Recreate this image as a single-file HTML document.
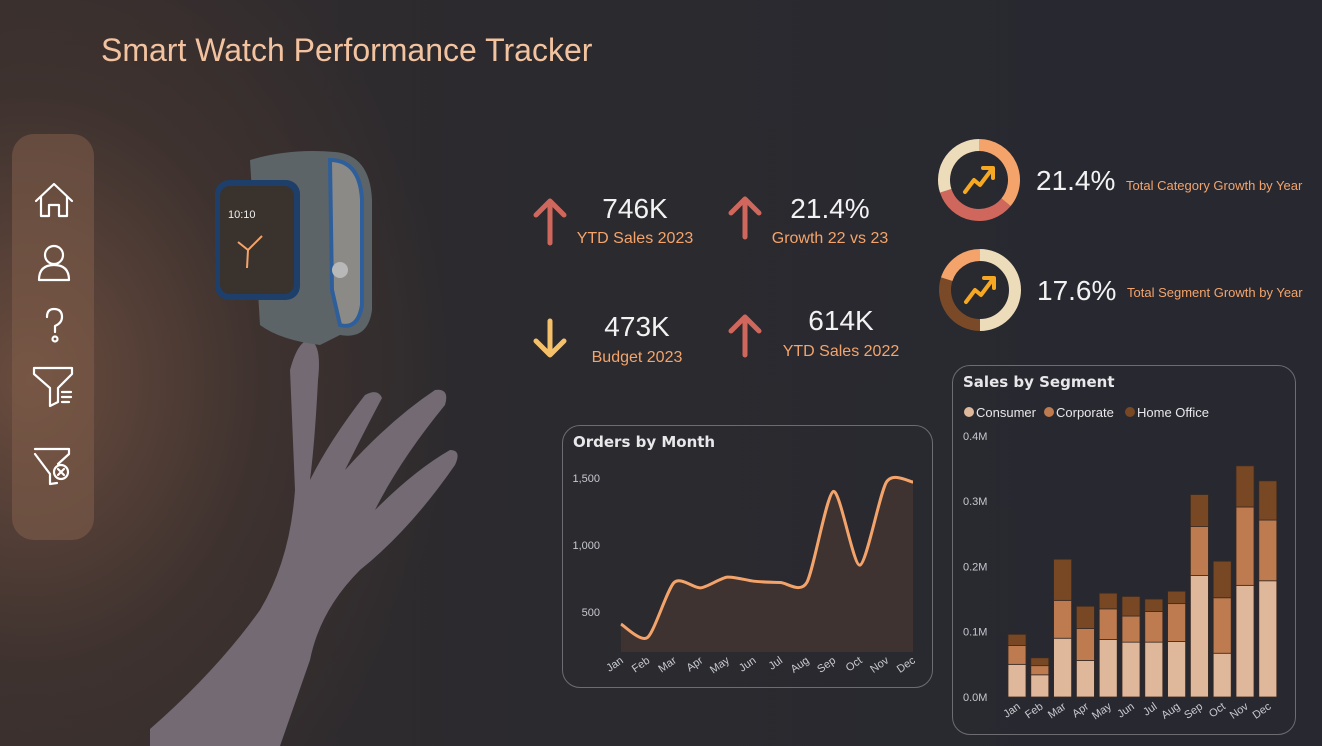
<!DOCTYPE html>
<html><head><meta charset="utf-8">
<style>
body{margin:0;width:1322px;height:746px;overflow:hidden;font-family:"Liberation Sans",sans-serif;}
#root{position:relative;width:1322px;height:746px;background:radial-gradient(ellipse 420px 520px at 30px 380px,#6a4c3e 0%,#3e322f 55%,rgba(40,40,46,0) 100%),linear-gradient(90deg,#352d2c 0%,#2b2a2f 40%,#272830 100%);}
.abs{position:absolute;}
.kv{position:absolute;color:#f2f2f2;font-size:28px;text-align:center;}
.kl{position:absolute;color:#f4a46a;font-size:16px;text-align:center;}
.card{position:absolute;border:1.5px solid #6c6c72;border-radius:18px;}
.ct{position:absolute;color:#e8e8ea;font-weight:bold;font-size:15px;font-family:"DejaVu Sans",sans-serif;}
</style></head><body>
<div id="root">
<div class="abs" style="left:101px;top:32px;font-size:32px;color:#f3c3a0;">Smart Watch Performance Tracker</div>

<div class="abs" style="left:12px;top:134px;width:82px;height:406px;border-radius:22px;background:rgba(130,95,75,0.55);"></div>
<svg class="abs" style="left:12px;top:134px" width="82" height="406" fill="none" stroke="#fff" stroke-width="2.2" stroke-linejoin="round" stroke-linecap="round">
<g><path d="M24 67 L42 50 L60 67 M29 63 V82 H37 V71 H47 V82 H55 V63"/></g>
<g><circle cx="42" cy="121" r="9"/><path d="M27 146 Q27 131 42 131 Q57 131 57 146 Z"/></g>
<g><path d="M35 183 Q35 175 42 175 Q50 175 50 183 Q50 189 43 192 V198"/><circle cx="43" cy="205" r="2.5"/></g>
<g><path d="M22 234 H60 V240 L46 254 V268 L38 272 V254 L22 240 Z"/><path d="M50 258 H59 M50 263 H59 M50 268 H57"/></g>
<g><path d="M23 315 H57 V320 L46 330 M38 340 V350 L45 349 M38 340 L23 320 Z"/><circle cx="49" cy="338" r="7"/><path d="M46 335 L52 341 M52 335 L46 341"/></g>
</svg>

<svg class="abs" style="left:150px;top:140px" width="330" height="606">
<path d="M140 230 Q148 200 160 200 Q172 205 168 240 Q165 300 160 340 Q180 300 215 255 Q228 248 232 258 Q215 290 195 330 Q240 280 285 250 Q300 248 295 265 Q250 320 225 370 Q265 330 300 310 Q312 310 305 325 Q260 390 210 430 Q170 470 160 520 L130 606 H-80 L-20 606 Q60 540 110 470 Q140 420 145 350 Z" fill="#736a74"/>
<path d="M100 20 Q140 8 185 12 Q220 15 222 60 L222 170 Q218 200 190 195 L170 205 Q130 200 110 185 Z" fill="#5c6468"/>
<path d="M180 20 Q210 20 212 60 L212 165 Q208 190 190 185 L182 150 Z" fill="#8c8a86" stroke="#2f5f9a" stroke-width="4"/>
<rect x="65" y="40" width="85" height="120" rx="14" fill="#1d3f6a"/>
<rect x="70" y="46" width="74" height="108" rx="10" fill="#3a322d"/>
<circle cx="190" cy="130" r="8" fill="#b8b8b8"/>
<text x="78" y="78" font-size="11" fill="#eee">10:10</text>
<path d="M98 110 L88 102 M98 110 L112 96 M98 110 L97 128" stroke="#f4a46a" stroke-width="2"/>
</svg>

<svg class="abs" style="left:530px;top:195px" width="40" height="180" stroke-linecap="round" stroke-linejoin="round" fill="none" stroke-width="5">
<path d="M20 48 V6 M6 20 L20 6 L34 20" stroke="#d0675c"/>
<path d="M20 126 V160 M6 146 L20 160 L34 146" stroke="#f5c06a"/>
</svg>
<svg class="abs" style="left:725px;top:195px" width="40" height="180" stroke-linecap="round" stroke-linejoin="round" fill="none" stroke-width="5">
<path d="M20 42 V4 M6 18 L20 4 L34 18" stroke="#d0675c"/>
<path d="M20 160 V122 M6 136 L20 122 L34 136" stroke="#d0675c"/>
</svg>
<div class="kv" style="left:575px;top:193px;width:120px;">746K</div>
<div class="kl" style="left:565px;top:230px;width:140px;">YTD Sales 2023</div>
<div class="kv" style="left:770px;top:193px;width:120px;">21.4%</div>
<div class="kl" style="left:760px;top:230px;width:140px;">Growth 22 vs 23</div>
<div class="kv" style="left:577px;top:311px;width:120px;">473K</div>
<div class="kl" style="left:567px;top:349px;width:140px;">Budget 2023</div>
<div class="kv" style="left:781px;top:305px;width:120px;">614K</div>
<div class="kl" style="left:771px;top:343px;width:140px;">YTD Sales 2022</div>

<svg class="abs" id="donuts" style="left:930px;top:130px" width="100" height="210"></svg>
<div class="kv" style="left:1036px;top:165px;">21.4%</div>
<div class="abs" style="left:1126px;top:178px;font-size:13px;color:#f4a46a;">Total Category Growth by Year</div>
<div class="kv" style="left:1037px;top:275px;">17.6%</div>
<div class="abs" style="left:1127px;top:285px;font-size:13px;color:#f4a46a;">Total Segment Growth by Year</div>

<div class="card" style="left:562px;top:425px;width:369px;height:261px;"></div>
<div class="ct" style="left:573px;top:433px;">Orders by Month</div>
<svg class="abs" id="orders" style="left:0;top:0" width="1322" height="746"></svg>

<div class="card" style="left:952px;top:365px;width:342px;height:368px;"></div>
<div class="ct" style="left:963px;top:373px;">Sales by Segment</div>
<svg class="abs" id="seg" style="left:0;top:0" width="1322" height="746"></svg>
</div>
<script>
const months=["Jan","Feb","Mar","Apr","May","Jun","Jul","Aug","Sep","Oct","Nov","Dec"];
const orders=[410,310,720,680,760,730,720,720,1400,850,1470,1470];
const orderTicks=[500,1000,1500];
const consumer=[0.050,0.034,0.090,0.056,0.088,0.084,0.084,0.085,0.186,0.067,0.171,0.178];
const corporate=[0.029,0.014,0.058,0.049,0.047,0.040,0.047,0.058,0.075,0.085,0.120,0.093];
const homeOffice=[0.017,0.012,0.063,0.034,0.024,0.030,0.019,0.019,0.049,0.056,0.063,0.060];
const segTicks=[0,0.1,0.2,0.3,0.4];
const segNames=["Consumer","Corporate","Home Office"];
const donut1=[0.36,0.34,0.30];
const donut2=[0.5,0.3,0.2];
const NS="http://www.w3.org/2000/svg";
function mk(p,t,a){const e=document.createElementNS(NS,t);for(const k in a)e.setAttribute(k,a[k]);p.appendChild(e);return e;}
// orders
const oy=v=>612-(v-500)*67/500, ox=i=>621+i*292/11;
const O=document.getElementById('orders');
orderTicks.forEach(t=>{const e=mk(O,'text',{x:600,y:oy(t)+4,'text-anchor':'end','font-size':11,fill:'#c8c8d0'});e.textContent=t.toLocaleString('en-US');

});
let pts=orders.map((v,i)=>[ox(i),oy(v)]);
let d="M"+pts[0][0]+" "+pts[0][1];
for(let i=0;i<pts.length-1;i++){const p0=pts[i-1]||pts[i],p1=pts[i],p2=pts[i+1],p3=pts[i+2]||p2;
d+=` C${p1[0]+(p2[0]-p0[0])/8} ${p1[1]+(p2[1]-p0[1])/8} ${p2[0]-(p3[0]-p1[0])/8} ${p2[1]-(p3[1]-p1[1])/8} ${p2[0]} ${p2[1]}`;}
const area=mk(O,'path',{d:d+` L${ox(11)} 652 L${ox(0)} 652 Z`,fill:'#3e3330'});


const line=mk(O,'path',{d:d,fill:'none',stroke:'#f4a46a','stroke-width':3});


months.forEach((m,i)=>{const e=mk(O,'text',{x:ox(i)+3,y:662,'text-anchor':'end','font-size':11,fill:'#c8c8d0',transform:`rotate(-35 ${ox(i)+3} 662)`});e.textContent=m;

});
// segment
const sy=v=>697-v*653, sx=i=>1017+i*22.8;
const S=document.getElementById('seg');
const cols=["#dfb89c","#bd7b4f","#784824"];
segNames.forEach((n,k)=>{const lx=[964,1044,1125][k];
const c=mk(S,'circle',{cx:lx+5,cy:412,r:5,fill:cols[k]});


const t=mk(S,'text',{x:lx+12,y:417,'font-size':13,fill:'#e8e8ea'});t.textContent=n;

});
segTicks.forEach(t=>{const e=mk(S,'text',{x:963,y:sy(t)+4,'font-size':11,fill:'#c8c8d0'});e.textContent=t.toFixed(1)+"M";

});
months.forEach((m,i)=>{let base=0;[consumer,corporate,homeOffice].forEach((arr,k)=>{const v=arr[i];
const r=mk(S,'rect',{x:sx(i)-9,y:sy(base+v),width:18,height:sy(base)-sy(base+v),fill:cols[k],stroke:'#3a2a22','stroke-width':0.8});


base+=v;});
const e=mk(S,'text',{x:sx(i)+4,y:708,'text-anchor':'end','font-size':11,fill:'#c8c8d0',transform:`rotate(-35 ${sx(i)+4} 708)`});e.textContent=m;

});
// donuts
const D=document.getElementById('donuts');
function donut(cx,cy,vals,colors,name){let a=0;const R=35;
vals.forEach((v,k)=>{const a0=a*2*Math.PI,a1=(a+v)*2*Math.PI;a+=v;
const p=mk(D,'path',{d:`M${cx+R*Math.sin(a0)} ${cy-R*Math.cos(a0)} A${R} ${R} 0 ${v>0.5?1:0} 1 ${cx+R*Math.sin(a1)} ${cy-R*Math.cos(a1)}`,fill:'none',stroke:colors[k],'stroke-width':12});

});
const ic=mk(D,'path',{d:`M${cx-14} ${cy+12} L${cx-5} ${cy} L${cx+1} ${cy+5} L${cx+13} ${cy-11} M${cx+4} ${cy-12} L${cx+14} ${cy-12} L${cx+14} ${cy-2}`,fill:'none',stroke:'#f6a823','stroke-width':4,'stroke-linecap':'round','stroke-linejoin':'round'});

}
donut(49,50,donut1,["#f4a46a","#d0675c","#eddcba"],'category-donut');
donut(50,160,donut2,["#eddcba","#7a4a28","#f4a46a"],'segment-donut');
</script>
</body></html>
